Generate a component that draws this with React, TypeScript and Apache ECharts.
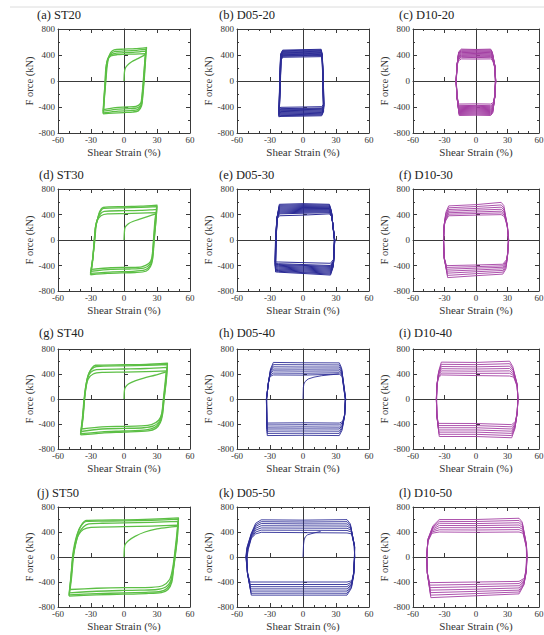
import React, { useEffect, useRef } from "react";
import * as echarts from "echarts";

// ---------- DATA (strain %, force kN), each loop a flat list x,y,x,y,... ----------
const titles = [
  "(a) ST20", "(b) D05-20", "(c) D10-20",
  "(d) ST30", "(e) D05-30", "(f) D10-30",
  "(g) ST40", "(h) D05-40", "(i) D10-40",
  "(j) ST50", "(k) D05-50", "(l) D10-50",
];
const xTicks = [-60, -30, 0, 30, 60];
const yTicks = [-800, -400, 0, 400, 800];

const st20Loops = [
  [-19,-505, -17.5,-200, -16.5,0, -15.5,200, -14,360, -12,440, -9,480, 0,490, 10,498, 20.5,515, 19.5,300, 18.3,0, 17,-250, 16,-380, 13,-460, 8,-478, 0,-485, -10,-495, -19,-505],
  [-19,-490, -17.7,-200, -16.8,0, -16,200, -14.5,340, -12,420, -8,455, 0,462, 10,470, 20,490, 19.3,300, 18,0, 16.8,-250, 15.8,-370, 12.5,-440, 6,-455, -5,-462, -19,-490],
  [-19,-465, -18,-200, -17,0, -16.3,200, -15,330, -12,400, -7,430, 0,435, 10,445, 19.8,460, 19,300, 17.8,0, 16.5,-240, 15.5,-360, 12,-415, 5,-425, -8,-435, -19,-465],
  [-18.5,-440, -17.8,-200, -17.2,0, -16.5,200, -15,320, -12,385, -6,405, 0,410, 10,415, 19.5,420, 18.8,280, 17.5,0, 16.3,-230, 15.2,-340, 11,-390, 3,-400, -8,-410, -18.5,-440],
  [0,0, 0.3,120, 1,190, 3,240, 7,295, 12,340, 16,375, 19.5,410],
];

const d0520Loops = [
  [-22,-550, -21,0, -20.2,420, -18.5,475, 0,482, 16.5,488, 17.3,420, 18,0, 18.7,-470, 17,-535, 0,-540, -20,-545, -22,-550],
  [-21.9,-538, -21.1,0, -20.3,410, -18.5,465, 0,472, 16.6,478, 17.4,410, 18.1,0, 18.7,-460, 17,-522, 0,-528, -20,-532, -21.9,-538],
  [-22,-525, -21.2,0, -20.4,400, -18.5,455, 0,462, 16.5,468, 17.3,400, 18,0, 18.6,-450, 17,-510, 0,-515, -20,-520, -22,-525],
  [-21.9,-512, -21.1,0, -20.3,390, -18.5,445, 0,451, 16.7,458, 17.4,390, 18.1,0, 18.7,-440, 17,-497, 0,-502, -20,-507, -21.9,-512],
  [-21.8,-500, -21,0, -20.3,380, -18.5,435, 0,440, 16.7,448, 17.5,380, 18.2,0, 18.8,-430, 17,-485, 0,-490, -20,-495, -21.8,-500],
  [-21.7,-488, -20.9,0, -20.2,370, -18.5,425, 0,430, 16.8,438, 17.5,370, 18.2,0, 18.8,-420, 17,-473, 0,-478, -20,-482, -21.7,-488],
  [-21.7,-475, -20.8,0, -20.2,360, -18.5,415, 0,420, 16.8,428, 17.5,360, 18.3,0, 18.8,-410, 17,-460, 0,-465, -20,-470, -21.7,-475],
  [-21.6,-462, -20.8,0, -20.1,350, -18.5,405, 0,410, 16.9,418, 17.6,350, 18.3,0, 18.9,-400, 17,-447, 0,-452, -20,-457, -21.6,-462],
  [-21.5,-450, -20.7,0, -20,340, -18.5,395, 0,400, 17,410, 17.6,340, 18.4,0, 18.9,-390, 17,-435, 0,-440, -20,-445, -21.5,-450],
  [-21.5,-440, -20.6,0, -20,335, -18.5,388, 0,392, 17,400, 17.7,335, 18.4,0, 19,-380, 17,-425, 0,-430, -20,-435, -21.5,-440],
  [-21.5,-430, -20.6,0, -20,330, -18.5,380, 0,385, 17,392, 17.7,330, 18.5,0, 19,-370, 17,-415, 0,-420, -20,-425, -21.5,-430],
  [-21.4,-410, -20.5,0, -19.9,320, -18.5,365, 0,370, 17,375, 17.7,320, 18.5,0, 19,-350, 17,-395, 0,-400, -20,-405, -21.4,-410],
];

const d1020Loops = [
  [-16,-530, -18,-250, -19,0, -18,250, -16.5,450, -14,490, 0,485, 14,490, 15.5,450, 17.8,250, 18.8,0, 17.8,-250, 16,-490, 14,-530, 0,-525, -16,-530],
  [-16.1,-515, -18,-250, -19,0, -18,245, -16.5,438, -14,478, 0,472, 14,478, 15.5,438, 17.8,245, 18.8,0, 17.8,-250, 16,-475, 14,-515, 0,-510, -16.1,-515],
  [-16.2,-500, -18.1,-250, -19,0, -18.1,240, -16.6,425, -14,465, 0,460, 14,465, 15.6,425, 17.9,240, 18.8,0, 17.9,-250, 16.1,-460, 14,-500, 0,-495, -16.2,-500],
  [-16.2,-485, -18.1,-245, -18.9,0, -18.1,235, -16.6,412, -14,452, 0,448, 14,452, 15.6,412, 17.9,235, 18.7,0, 17.9,-245, 16.1,-445, 14,-485, 0,-480, -16.2,-485],
  [-16.3,-470, -18.2,-240, -18.9,0, -18.2,230, -16.7,400, -14,440, 0,435, 14,440, 15.7,400, 18,230, 18.7,0, 18,-240, 16.2,-430, 14,-470, 0,-465, -16.3,-470],
  [-16.3,-455, -18.2,-235, -18.8,0, -18.2,225, -16.7,388, -14,428, 0,422, 14,428, 15.7,388, 18,225, 18.7,0, 18,-235, 16.2,-415, 14,-455, 0,-450, -16.3,-455],
  [-16.4,-440, -18.2,-230, -18.8,0, -18.2,220, -16.8,375, -14,415, 0,410, 14,415, 15.8,375, 18,220, 18.6,0, 18,-230, 16.3,-400, 14,-440, 0,-435, -16.4,-440],
  [-16.4,-425, -18.2,-225, -18.8,0, -18.2,215, -16.8,362, -14,402, 0,398, 14,402, 15.8,362, 18,215, 18.6,0, 18,-225, 16.3,-390, 14,-425, 0,-420, -16.4,-425],
  [-16.5,-410, -18.3,-220, -18.8,0, -18.3,210, -16.9,350, -14,390, 0,385, 14,390, 15.8,350, 18,210, 18.6,0, 18,-220, 16.4,-375, 14,-410, 0,-405, -16.5,-410],
  [-16.5,-395, -18.3,-215, -18.7,0, -18.3,205, -16.9,340, -14,375, 0,372, 14,375, 15.9,340, 18.1,205, 18.5,0, 18.1,-215, 16.5,-362, 14,-395, 0,-390, -16.5,-395],
  [-16.5,-380, -18.3,-210, -18.7,0, -18.3,200, -17,330, -14,365, 0,360, 14,365, 15.9,330, 18.1,200, 18.5,0, 18.1,-210, 16.5,-350, 14,-380, 0,-375, -16.5,-380],
  [-16.6,-355, -18.3,-200, -18.7,0, -18.3,190, -17,310, -14,340, 0,338, 14,340, 16,310, 18.1,190, 18.5,0, 18.1,-200, 16.6,-330, 14,-355, 0,-352, -16.6,-355],
];

const st30Loops = [
  [-30.5,-545, -28.5,-300, -26.5,0, -25.5,200, -24,330, -22,450, -19,510, 0,525, 15,532, 30,548, 29,300, 27.5,0, 26,-300, 24,-420, 20,-490, 10,-510, 0,-515, -15,-525, -30.5,-545],
  [-30.5,-525, -28.5,-300, -26.8,0, -25.8,200, -24.2,320, -22,430, -18.5,495, 0,505, 15,512, 30,525, 29,300, 27.3,0, 25.8,-300, 23.5,-410, 19,-470, 8,-492, -10,-500, -30.5,-525],
  [-30,-490, -28.5,-300, -27,0, -26,200, -24.5,310, -22,400, -18,450, 0,460, 15,465, 29.5,480, 28.5,300, 27,0, 25.5,-290, 23,-390, 18,-440, 5,-455, -12,-460, -30,-490],
  [-29.5,-460, -28.3,-300, -27,0, -26,190, -24.5,300, -21,380, -15,410, 0,415, 15,420, 29,430, 28,280, 26.8,0, 25.3,-280, 22.5,-370, 16,-420, 5,-430, -12,-435, -29.5,-460],
  [0,0, 0.4,130, 1,200, 4,255, 8,290, 15,330, 22,370, 29,410],
];

const d0530Loops = [
  [-25,-500, -24.5,0, -23.3,380, -21.5,560, 0,570, 24,560, 25.8,460, 28.5,0, 27.5,-420, 25,-550, 0,-525, -22,-505, -25,-500],
  [-25,-488, -24.5,0, -23.3,375, -21.5,545, 0,555, 24,548, 25.8,450, 28.5,0, 27.5,-410, 25,-535, 0,-512, -22,-492, -25,-488],
  [-25,-475, -24.6,0, -23.4,370, -21.5,530, 0,540, 24,535, 25.9,440, 28.6,0, 27.6,-400, 25,-520, 0,-500, -22,-480, -25,-475],
  [-25.1,-462, -24.6,0, -23.4,365, -21.5,515, 0,525, 24,522, 25.9,430, 28.6,0, 27.6,-390, 25,-505, 0,-485, -22,-468, -25.1,-462],
  [-25.1,-450, -24.7,0, -23.5,360, -21.5,500, 0,510, 24,508, 26,420, 28.7,0, 27.7,-380, 25,-490, 0,-470, -22,-455, -25.1,-450],
  [-25.2,-435, -24.7,0, -23.5,355, -21.5,485, 0,495, 24,494, 26,410, 28.7,0, 27.7,-370, 25,-475, 0,-455, -22,-440, -25.2,-435],
  [-25.2,-420, -24.8,0, -23.6,350, -21.5,470, 0,480, 24,480, 26.1,400, 28.8,0, 27.8,-360, 25,-460, 0,-440, -22,-425, -25.2,-420],
  [-25.3,-408, -24.8,0, -23.6,345, -21.5,455, 0,465, 24,466, 26.1,390, 28.8,0, 27.8,-350, 25,-445, 0,-425, -22,-412, -25.3,-408],
  [-25.3,-395, -24.9,0, -23.7,340, -21.5,440, 0,450, 24,452, 26.2,380, 28.8,0, 27.8,-340, 25,-430, 0,-410, -22,-398, -25.3,-395],
  [-25.3,-382, -24.9,0, -23.7,335, -21.5,425, 0,435, 24,440, 26.2,375, 28.8,0, 27.8,-330, 25,-415, 0,-398, -22,-385, -25.3,-382],
  [-25.3,-370, -25,0, -23.8,330, -21.5,410, 0,420, 24,428, 26.2,370, 28.9,0, 27.9,-320, 25,-400, 0,-385, -22,-372, -25.3,-370],
  [-25.4,-345, -25,0, -23.8,320, -21.5,380, 0,390, 24,410, 26.3,360, 28.9,0, 27.9,-300, 25,-365, 0,-355, -22,-345, -25.4,-345],
];

const d1030Loops = [
  [-27,-590, -30,-300, -31,0, -30.2,250, -28.7,435, -26,535, 0,555, 24,590, 26.5,540, 29.5,250, 31.2,0, 30,-250, 28.5,-455, 25.5,-535, 0,-560, -27,-590],
  [-27.2,-555, -30.1,-300, -31,0, -30.2,250, -28.8,405, -26,505, 0,525, 24,550, 26.6,500, 29.6,250, 31.1,0, 30,-250, 28.6,-425, 25.5,-505, 0,-528, -27.2,-555],
  [-27.4,-520, -30.2,-300, -31,0, -30.3,240, -28.9,378, -26,478, 0,495, 24,515, 26.7,470, 29.7,240, 31,0, 30,-240, 28.7,-400, 25.5,-478, 0,-498, -27.4,-520],
  [-27.6,-488, -30.3,-290, -30.9,0, -30.3,230, -29,352, -26,452, 0,468, 24,482, 26.8,440, 29.8,230, 31,0, 30.1,-230, 28.8,-375, 25.5,-452, 0,-470, -27.6,-488],
  [-27.8,-458, -30.4,-280, -30.9,0, -30.4,220, -29.1,330, -26,428, 0,440, 24,452, 26.9,415, 29.9,220, 30.9,0, 30.1,-220, 28.9,-350, 25.5,-428, 0,-442, -27.8,-458],
  [-28,-430, -30.5,-270, -30.8,0, -30.4,210, -29.2,310, -26,405, 0,415, 24,425, 27,390, 30,210, 30.9,0, 30.2,-210, 29,-330, 25.5,-405, 0,-418, -28,-430],
  [-28.2,-402, -30.5,-260, -30.8,0, -30.5,200, -29.3,290, -26,380, 0,390, 24,398, 27.1,365, 30,200, 30.8,0, 30.2,-200, 29,-310, 25.5,-380, 0,-392, -28.2,-402],
];

const st40Loops = [
  [-39.5,-575, -37.5,-300, -36,0, -34.5,200, -32.5,380, -29.5,490, -26,540, 0,548, 20,555, 39.5,572, 38.5,300, 36.5,0, 35,-250, 33,-380, 29,-470, 22,-510, 0,-530, -20,-545, -39.5,-575],
  [-39.5,-555, -37.8,-300, -36.3,0, -34.8,200, -32.8,370, -29.5,475, -25,520, 0,530, 20,538, 39.5,552, 38.3,300, 36.3,0, 34.8,-250, 32.5,-370, 28,-455, 20,-495, 0,-512, -20,-525, -39.5,-555],
  [-39,-520, -37.5,-300, -36,0, -34.8,200, -33,340, -30,430, -25,470, 0,480, 20,488, 39,505, 38,300, 36,0, 34.5,-240, 32,-360, 27,-430, 18,-460, 0,-470, -20,-480, -39,-520],
  [-38.5,-480, -37.2,-300, -35.8,0, -34.5,190, -32.5,320, -28,400, -20,425, 0,430, 20,438, 38.5,450, 37.5,280, 35.8,0, 34.3,-230, 31.5,-340, 25,-410, 15,-430, 0,-438, -20,-445, -38.5,-480],
  [0,0, 0.3,120, 1,180, 4,240, 10,290, 18,335, 28,380, 38,430],
];

const d0540Loops = [
  [-32.5,-585, -33.3,0, -31,300, -29.5,480, -27,585, 0,580, 33,578, 35,500, 38.8,0, 37.5,-300, 35.5,-500, 33,-585, 0,-580, -32.5,-585],
  [-32.6,-550, -33.3,0, -31.2,290, -29.6,460, -27,550, 0,548, 33,545, 35.2,470, 38.8,0, 37.6,-290, 35.6,-470, 33,-550, 0,-548, -32.6,-550],
  [-32.7,-515, -33.2,0, -31.3,280, -29.7,440, -27,515, 0,512, 33,512, 35.3,445, 38.7,0, 37.7,-280, 35.7,-445, 33,-515, 0,-512, -32.7,-515],
  [-32.8,-480, -33.2,0, -31.4,270, -29.8,420, -27,480, 0,478, 33,480, 35.4,420, 38.6,0, 37.8,-270, 35.8,-420, 33,-480, 0,-478, -32.8,-480],
  [-32.9,-450, -33.1,0, -31.5,260, -29.9,400, -27,450, 0,446, 33,450, 35.5,400, 38.5,0, 37.9,-260, 35.9,-400, 33,-450, 0,-446, -32.9,-450],
  [-33,-415, -33.1,0, -31.6,250, -30,380, -27,415, 0,412, 33,420, 35.5,380, 38.5,0, 38,-250, 36,-380, 33,-415, 0,-412, -33,-415],
  [-33,-385, -33,0, -31.7,240, -30,360, -27,385, 0,382, 33,398, 35.6,360, 38.4,0, 38,-240, 36,-360, 33,-385, 0,-380, -33,-385],
  [0,0, 0.3,180, 0.8,240, 2,280, 4.7,320, 10,350, 17,373, 25,388, 32.6,400],
];

const d1040Loops = [
  [-35,-600, -37,-300, -37.8,0, -37,250, -35.5,450, -33,590, 0,585, 32,605, 35,520, 39,250, 40,0, 39,-250, 37,-480, 34,-620, 0,-600, -35,-600],
  [-35.2,-565, -37.1,-290, -37.8,0, -37.1,240, -35.6,430, -33,555, 0,550, 32,565, 35.2,490, 39.1,240, 40,0, 39.1,-240, 37.1,-460, 34,-585, 0,-565, -35.2,-565],
  [-35.4,-530, -37.2,-280, -37.7,0, -37.1,230, -35.7,410, -33,520, 0,515, 32,525, 35.4,460, 39.2,230, 39.9,0, 39.2,-230, 37.2,-440, 34,-550, 0,-530, -35.4,-530],
  [-35.6,-495, -37.3,-270, -37.7,0, -37.2,220, -35.8,390, -33,485, 0,480, 32,488, 35.6,430, 39.3,220, 39.9,0, 39.3,-220, 37.3,-420, 34,-515, 0,-495, -35.6,-495],
  [-35.7,-460, -37.3,-260, -37.6,0, -37.2,210, -35.9,370, -33,450, 0,445, 32,450, 35.7,400, 39.3,210, 39.8,0, 39.3,-210, 37.4,-400, 34,-480, 0,-460, -35.7,-460],
  [-35.8,-425, -37.4,-250, -37.6,0, -37.3,200, -36,350, -33,415, 0,410, 32,412, 35.8,375, 39.4,200, 39.8,0, 39.4,-200, 37.5,-380, 34,-445, 0,-425, -35.8,-425],
  [-35.9,-390, -37.4,-240, -37.5,0, -37.3,190, -36,335, -33,385, 0,375, 32,368, 35.9,350, 39.4,190, 39.7,0, 39.4,-190, 37.5,-360, 34,-410, 0,-392, -35.9,-390],
];

const st50Loops = [
  [-50,-625, -48,-300, -46.5,0, -44.5,200, -42,380, -38.5,520, -34,585, -20,590, 0,595, 25,605, 49.5,625, 48.5,300, 46.5,0, 45,-200, 43.5,-400, 40,-520, 34,-570, 20,-585, 0,-595, -25,-605, -50,-625],
  [-50,-605, -48.2,-300, -46.8,0, -45,200, -42.5,370, -39,500, -34,570, -20,575, 0,578, 25,588, 49.5,605, 48.3,300, 46.3,0, 44.8,-200, 43,-390, 39,-505, 33,-552, 20,-565, 0,-575, -25,-585, -50,-605],
  [-49.5,-575, -48,-300, -46.3,0, -44,220, -41,380, -37,480, -32,530, -20,540, 0,545, 25,555, 49,570, 48,300, 46,0, 44.5,-200, 42.5,-380, 38,-480, 30,-520, 15,-530, 0,-535, -25,-548, -49.5,-575],
  [-49,-520, -47.5,-300, -46,0, -44,200, -41.5,350, -37,440, -30,475, 0,485, 25,495, 49,510, 47.5,280, 45.7,0, 44,-200, 41.5,-360, 35,-460, 25,-485, 0,-490, -25,-500, -49,-520],
  [0,0, 0.4,150, 1,200, 4,260, 10,330, 19,400, 30,450, 40,475, 49.5,490],
];

const d0550Loops = [
  [-47,-610, -50,-300, -52,0, -51,150, -47,380, -43,540, -38,595, 0,590, 40,598, 43,530, 46.5,200, 47,0, 46,-300, 44,-500, 40,-610, 0,-610, -47,-610],
  [-47.2,-580, -50.2,-290, -51.8,0, -50.8,150, -47,370, -43,515, -38,565, 0,560, 40,565, 43.2,505, 46.6,200, 47,0, 46,-290, 44,-480, 40,-580, 0,-578, -47.2,-580],
  [-47.4,-545, -50.3,-280, -51.6,0, -50.6,140, -47,355, -43,490, -38,535, 0,530, 40,530, 43.4,480, 46.7,190, 46.9,0, 46,-280, 44,-460, 40,-545, 0,-545, -47.4,-545],
  [-47.6,-510, -50.4,-270, -51.4,0, -50.4,140, -47,340, -43,460, -38,500, 0,498, 40,495, 43.6,455, 46.8,180, 46.9,0, 46.1,-270, 44.2,-440, 40,-510, 0,-510, -47.6,-510],
  [-47.8,-475, -50.5,-260, -51.2,0, -50.2,130, -47,325, -43,430, -38,465, 0,462, 40,460, 43.8,430, 46.9,170, 46.8,0, 46.1,-260, 44.3,-420, 40,-475, 0,-475, -47.8,-475],
  [-48,-440, -50.6,-250, -51,0, -50,130, -47,310, -43,400, -38,430, 0,428, 40,425, 44,400, 47,160, 46.8,0, 46.2,-250, 44.4,-400, 40,-440, 0,-440, -48,-440],
  [-48.2,-400, -50.6,-240, -50.8,0, -49.8,120, -47,300, -43,370, -38,395, 0,390, 40,385, 44.2,370, 47,150, 46.7,0, 46.2,-240, 44.5,-380, 40,-400, 0,-400, -48.2,-400],
  [0,0, 0.5,200, 1,272, 2,320, 4,354, 10,385, 16,408],
];

const d1050Loops = [
  [-43,-650, -46,-300, -47.2,0, -45.5,300, -41,500, -35,600, 0,600, 41,620, 44,560, 48,200, 48.7,0, 47.8,-250, 45.5,-450, 41,-590, 0,-620, -43,-650],
  [-43.2,-610, -46.1,-290, -47.1,0, -45.6,290, -41.2,480, -35,570, 0,568, 41,585, 44.2,530, 48,200, 48.6,0, 47.8,-240, 45.6,-440, 41,-560, 0,-585, -43.2,-610],
  [-43.4,-570, -46.2,-280, -47,0, -45.7,280, -41.4,460, -35,540, 0,535, 41,548, 44.4,500, 48,190, 48.5,0, 47.8,-230, 45.7,-420, 41,-530, 0,-550, -43.4,-570],
  [-43.6,-530, -46.3,-270, -46.9,0, -45.8,270, -41.6,440, -35,505, 0,502, 41,512, 44.5,470, 48,180, 48.4,0, 47.8,-220, 45.8,-400, 41,-495, 0,-515, -43.6,-530],
  [-43.8,-490, -46.4,-260, -46.8,0, -45.9,260, -41.8,420, -35,470, 0,468, 41,475, 44.6,440, 48,170, 48.3,0, 47.8,-210, 45.9,-380, 41,-460, 0,-475, -43.8,-490],
  [-44,-450, -46.5,-250, -46.7,0, -46,250, -42,400, -35,435, 0,432, 41,438, 44.7,410, 48,160, 48.2,0, 47.8,-200, 46,-360, 41,-425, 0,-438, -44,-450],
  [-44.2,-410, -46.5,-240, -46.6,0, -46,240, -42,380, -35,400, 0,395, 41,400, 44.8,380, 48,150, 48.1,0, 47.8,-190, 46,-340, 41,-390, 0,-400, -44.2,-410],
];

const panelLoops = [
  st20Loops, d0520Loops, d1020Loops,
  st30Loops, d0530Loops, d1030Loops,
  st40Loops, d0540Loops, d1040Loops,
  st50Loops, d0550Loops, d1050Loops,
];

// ---------- STYLE / LAYOUT ----------
const GREEN = "#5cbf45";
const BLUE = "#2c2c96";
const PURPLE = "#a440a4";
const colColors = [GREEN, BLUE, PURPLE];
const colLeft = [58, 237, 413];
const colWidth = [132, 132, 126];
const rowTop = [29, 189, 349, 507];
const rowHeight = [104, 102, 100, 100];
const lineWidths = [
  1.3, 1.0, 1.0,
  1.3, 1.0, 0.9,
  1.3, 0.9, 0.9,
  1.3, 0.9, 0.9,
];
const titlePos = [
  [37, 8], [219, 8], [399, 8],
  [39, 168], [219, 168], [399, 168],
  [39, 326], [219, 326], [399, 326],
  [37, 486], [219, 486], [399, 486],
];
const SERIF = "Liberation Serif";
const AX = "#3a3a3a";

function toPairs(flat: number[]) {
  const out: number[][] = [];
  for (let i = 0; i < flat.length; i += 2) out.push([flat[i], flat[i + 1]]);
  return out;
}

function buildOption() {
  const grid: any[] = [];
  const xAxis: any[] = [];
  const yAxis: any[] = [];
  const series: any[] = [];
  const graphic: any[] = [
    { type: "line", shape: { x1: 10, y1: 7, x2: 544, y2: 7 }, style: { stroke: "#dcdcdc", lineWidth: 1 }, silent: true },
  ];
  const lineStyle = { color: AX, width: 1 };
  for (let p = 0; p < 12; p++) {
    const r = Math.floor(p / 3);
    const c = p % 3;
    grid.push({
      left: colLeft[c], top: rowTop[r], width: colWidth[c], height: rowHeight[r],
      outerBoundsMode: "none", containLabel: false, show: false,
    });
    const xBase = {
      gridIndex: p, type: "value", min: xTicks[0], max: xTicks[xTicks.length - 1], interval: 30,
      splitLine: { show: false },
      axisTick: { show: true, inside: true, length: 4, lineStyle },
      minorTick: { show: true, splitNumber: 3, length: 2, lineStyle },
    };
    const yBase = {
      gridIndex: p, type: "value", min: yTicks[0], max: yTicks[yTicks.length - 1], interval: 400,
      splitLine: { show: false },
      axisTick: { show: true, inside: true, length: 4, lineStyle },
      minorTick: { show: true, splitNumber: 2, length: 2, lineStyle },
    };
    xAxis.push({
      ...xBase, position: "bottom",
      axisLine: { show: true, onZero: false, lineStyle },
      axisLabel: { show: true, fontSize: 9, margin: 2, color: "#333", fontFamily: SERIF },
      name: "Shear Strain (%)", nameLocation: "middle", nameGap: 13,
      nameTextStyle: { fontSize: 11, color: "#333", fontFamily: SERIF },
    });
    xAxis.push({
      ...xBase, position: "top",
      axisLine: { show: true, onZero: false, lineStyle },
      axisLabel: { show: false },
    });
    xAxis.push({
      ...xBase, position: "bottom",
      axisLine: { show: true, onZero: true, lineStyle },
      axisLabel: { show: false },
      minorTick: { show: false },
    });
    yAxis.push({
      ...yBase, position: "left",
      axisLine: { show: true, onZero: false, lineStyle },
      axisLabel: { show: true, fontSize: 9, margin: 3, color: "#333", fontFamily: SERIF },
      name: "F orce (kN)", nameLocation: "middle", nameGap: 23,
      nameTextStyle: { fontSize: 10.5, color: "#333", fontFamily: SERIF },
    });
    yAxis.push({
      ...yBase, position: "right",
      axisLine: { show: true, onZero: false, lineStyle },
      axisLabel: { show: false },
    });
    yAxis.push({
      ...yBase, position: "left",
      axisLine: { show: true, onZero: true, lineStyle },
      axisLabel: { show: false },
      minorTick: { show: false },
    });
    const isST = c === 0;
    panelLoops[p].forEach((loop) => {
      series.push({
        type: "line", xAxisIndex: p * 3, yAxisIndex: p * 3,
        data: toPairs(loop), showSymbol: false, symbol: "none", silent: true,
        smooth: isST ? 0.25 : false,
        lineStyle: { color: colColors[c], width: lineWidths[p], join: "round" },
        z: 3,
      });
    });
    graphic.push({
      type: "text", left: titlePos[p][0], top: titlePos[p][1], silent: true,
      style: { text: titles[p], fontSize: 12.5, fontFamily: SERIF, fill: "#222" },
    });
  }
  return {
    animation: false,
    backgroundColor: "#ffffff",
    grid, xAxis, yAxis, series, graphic,
  };
}

export default function App() {
  const ref = useRef<HTMLDivElement>(null);
  useEffect(() => {
    if (!ref.current) return;
    const chart = echarts.init(ref.current, null, { renderer: "svg" });
    chart.setOption(buildOption() as any);
    return () => chart.dispose();
  }, []);
  return (
    <div
      ref={ref}
      style={{ position: "absolute", left: 0, top: 0, width: 544, height: 635, background: "#fff" }}
    />
  );
}
